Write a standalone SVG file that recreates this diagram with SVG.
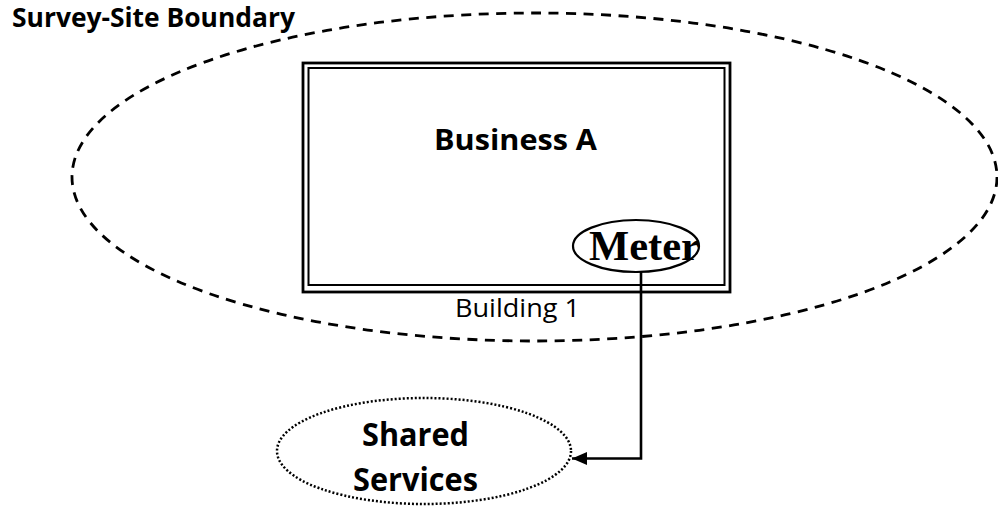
<svg xmlns="http://www.w3.org/2000/svg" width="998" height="506" viewBox="0 0 998 506">
  <defs>
    <style>
      .sans { font-family: "Open Sans", "Liberation Sans", sans-serif; fill: #000; }
      .bold { font-weight: bold; }
      .serif { font-family: "Liberation Serif", "Times New Roman", serif; font-weight: bold; fill: #000; }
      .line { fill: none; stroke: #000; }
    </style>
    <marker id="arrow" markerWidth="16" markerHeight="14" refX="15" refY="7" orient="auto" markerUnits="userSpaceOnUse">
      <path d="M0,0.5 L15,7 L0,13.5 Z" fill="#000"/>
    </marker>
  </defs>
  <rect width="998" height="506" fill="#fff"/>

  <!-- site boundary -->
  <g id="site-boundary">
    <ellipse class="line" cx="534.5" cy="177" rx="462.5" ry="164" stroke-width="2.8" stroke-dasharray="10 7.5"/>
    <text class="sans bold" x="12" y="27" font-size="26" textLength="283" lengthAdjust="spacingAndGlyphs">Survey-Site Boundary</text>
  </g>

  <!-- building with double border -->
  <g id="building-1">
    <rect class="line" x="303" y="63" width="427" height="229" stroke-width="2.8" fill="#fff"/>
    <rect class="line" x="308.5" y="68" width="416" height="217" stroke-width="2"/>
    <text class="sans bold" x="434" y="150" font-size="29" textLength="163" lengthAdjust="spacingAndGlyphs">Business A</text>
    <text class="sans" x="455" y="317" font-size="25" textLength="125" lengthAdjust="spacingAndGlyphs">Building 1</text>
  </g>

  <!-- meter -->
  <g id="meter">
    <ellipse class="line" cx="636" cy="246" rx="63" ry="26" stroke-width="2.2" fill="#fff"/>
    <text class="serif" x="589" y="260" font-size="42" textLength="111" lengthAdjust="spacingAndGlyphs">Meter</text>
  </g>

  <!-- shared services -->
  <g id="shared-services">
    <ellipse class="line" cx="424" cy="451" rx="147" ry="53" stroke-width="2.5" stroke-dasharray="2 2"/>
    <text class="sans bold" x="362" y="446" font-size="32" textLength="107" lengthAdjust="spacingAndGlyphs">Shared</text>
    <text class="sans bold" x="353" y="491" font-size="32" textLength="125" lengthAdjust="spacingAndGlyphs">Services</text>
  </g>

  <!-- connectors -->
  <g id="connectors">
    <polyline class="line" points="641,272 641,458.5 572,458.5" stroke-width="2.6" marker-end="url(#arrow)"/>
  </g>
</svg>
